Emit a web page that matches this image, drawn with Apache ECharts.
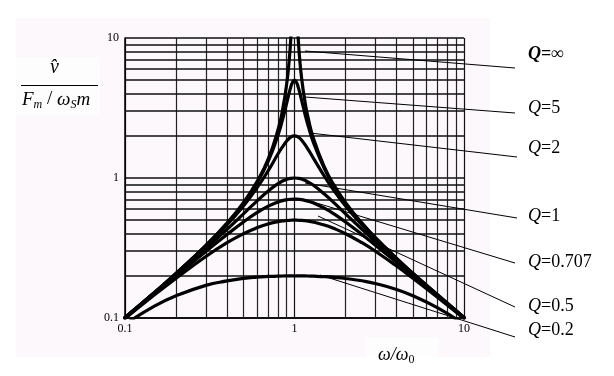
<!DOCTYPE html>
<html>
<head>
<meta charset="utf-8">
<script src="https://cdn.jsdelivr.net/npm/echarts@6/dist/echarts.min.js"></script>
<style>
  html, body { margin: 0; padding: 0; background: #fff; }
  #chart { width: 614px; height: 376px; }
</style>
</head>
<body>
<div id="chart"></div>
<script>
// ω/ω0 sample points (fine spacing near resonance for the sharp curves)
const omegaFine = [0.1, 0.15, 0.2, 0.3, 0.4, 0.5, 0.6, 0.7, 0.8, 0.85, 0.9, 0.93, 0.95, 0.97, 1,
  1.03, 1.05, 1.07, 1.1, 1.15, 1.2, 1.3, 1.5, 1.7, 2, 2.5, 3, 4, 5, 7, 10];
const omega = [0.1, 0.15, 0.2, 0.3, 0.4, 0.5, 0.6, 0.7, 0.8, 0.85, 0.9, 0.95, 1,
  1.05, 1.1, 1.2, 1.3, 1.5, 1.7, 2, 2.5, 3, 4, 5, 7, 10];

// values
const qInf = [0.101, 0.153, 0.208, 0.33, 0.476, 0.667, 0.938, 1.37, 2.22, 3.06, 4.74, 6.88, 9.74, 16.4, null,
  16.9, 10.2, 7.38, 5.24, 3.57, 2.73, 1.88, 1.2, 0.9, 0.667, 0.476, 0.375, 0.267, 0.208, 0.146, 0.101];
const q5 = [0.101, 0.153, 0.208, 0.329, 0.474, 0.661, 0.921, 1.32, 2.03, 2.61, 3.44, 4.05, 4.45, 4.78, 5,
  4.79, 4.49, 4.14, 3.62, 2.9, 2.39, 1.76, 1.17, 0.885, 0.661, 0.474, 0.374, 0.266, 0.208, 0.146, 0.101];
const q2 = [0.101, 0.153, 0.207, 0.325, 0.463, 0.632, 0.849, 1.13, 1.49, 1.67, 1.84, 1.96, 2,
  1.96, 1.87, 1.61, 1.37, 1.03, 0.82, 0.632, 0.463, 0.369, 0.264, 0.207, 0.145, 0.101];
const q1 = [0.1005, 0.152, 0.204, 0.313, 0.43, 0.555, 0.684, 0.808, 0.912, 0.951, 0.978, 0.995, 1,
  0.995, 0.982, 0.939, 0.883, 0.768, 0.669, 0.555, 0.43, 0.351, 0.258, 0.204, 0.144, 0.1005];
const q0707 = [0.1, 0.15, 0.2, 0.299, 0.395, 0.485, 0.565, 0.629, 0.674, 0.689, 0.699, 0.705, 0.707,
  0.705, 0.701, 0.684, 0.662, 0.609, 0.556, 0.485, 0.395, 0.331, 0.25, 0.2, 0.143, 0.1];
const q05 = [0.099, 0.147, 0.192, 0.275, 0.345, 0.4, 0.441, 0.47, 0.488, 0.493, 0.497, 0.499, 0.5,
  0.499, 0.498, 0.492, 0.483, 0.462, 0.437, 0.4, 0.345, 0.3, 0.235, 0.192, 0.14, 0.099];
const q02 = [0.0902, 0.122, 0.144, 0.171, 0.184, 0.192, 0.196, 0.198, 0.199, 0.1996, 0.1998, 0.2, 0.2,
  0.2, 0.1999, 0.1995, 0.1989, 0.1973, 0.1952, 0.1916, 0.1844, 0.1765, 0.16, 0.144, 0.118, 0.0902];

const minorValues = [0.2, 0.3, 0.4, 0.5, 0.6, 0.7, 0.8, 0.9, 2, 3, 4, 5, 6, 7, 8, 9];
const qLabels = ['∞', '5', '2', '1', '0.707', '0.5', '0.2'];

// leader lines: [start, end] in pixels, label centre y
const leaders = [
  [[305, 51], [515, 68], 55],
  [[305, 97], [515, 113], 109],
  [[310, 133], [517, 157], 149],
  [[305, 183], [517, 218], 217],
  [[310, 201], [515, 263], 263],
  [[318, 216], [515, 307], 307],
  [[320, 275], [515, 337], 331]
];

const pairs = (xs, ys) => xs.map((x, i) => [x, ys[i]]);

const curves = [
  pairs(omegaFine, qInf),
  pairs(omegaFine, q5),
  pairs(omega, q2),
  pairs(omega, q1),
  pairs(omega, q0707),
  pairs(omega, q05),
  pairs(omega, q02)
];

const serif = '"Liberation Serif", "DejaVu Serif", serif';

const chart = echarts.init(document.getElementById("chart"));

const graphics = [
  {
    type: "rect",
    z: -10,
    silent: true,
    shape: { x: 16, y: 18, width: 474, height: 339 },
    style: { fill: "#fcf8fc" }
  },
  {
    type: "rect",
    z: -9,
    silent: true,
    shape: { x: 16, y: 57, width: 84, height: 58 },
    style: { fill: "#fefdfe" }
  },
  {
    type: "rect",
    z: -9,
    silent: true,
    shape: { x: 365, y: 337, width: 73, height: 20 },
    style: { fill: "#fefdfe" }
  },
  // y axis name as a fraction
  {
    type: "text",
    left: 50,
    top: 58,
    style: {
      text: "v\u0302",
      font: "italic 20px " + serif,
      fill: "#000"
    }
  },
  {
    type: "line",
    shape: { x1: 21, y1: 85.5, x2: 98, y2: 85.5 },
    style: { stroke: "#000", lineWidth: 1 }
  },
  {
    type: "text",
    left: 22,
    top: 90,
    style: {
      text: "{i|F}{s|m}{n| / }{i|ω}{s|S}{i|m}",
      fill: "#000",
      rich: {
        i: { font: "italic 19px " + serif, fill: "#000" },
        n: { font: "19px " + serif, fill: "#000" },
        s: { font: "italic 12px " + serif, fill: "#000", padding: [10, 0, 0, 0] }
      }
    }
  },
  // x axis name
  {
    type: "text",
    left: 378,
    top: 346,
    style: {
      text: "{i|ω/ω}{s|0}",
      fill: "#000",
      rich: {
        i: { font: "italic 18px " + serif, fill: "#000" },
        s: { font: "12px " + serif, fill: "#000", padding: [9, 0, 0, 0] }
      }
    }
  }
];

leaders.forEach((l, i) => {
  graphics.push({
    type: "line",
    z: 100,
    shape: { x1: l[0][0], y1: l[0][1], x2: l[1][0], y2: l[1][1] },
    style: { stroke: "#000", lineWidth: 1 }
  });
  const bold = i === 0;
  graphics.push({
    type: "text",
    left: 528,
    top: l[2] - 10,
    style: {
      text: "{q|Q}{v|=" + qLabels[i] + "}",
      rich: {
        q: { font: (bold ? "italic bold " : "italic ") + "18px " + serif, fill: "#000" },
        v: { font: (bold ? "bold " : "") + "18px " + serif, fill: "#000" }
      }
    }
  });
});

const axisCommon = {
  type: "log",
  logBase: 10,
  min: 0.1,
  max: 10,
  axisLine: { show: true, lineStyle: { color: "#000", width: 1.5 } },
  axisTick: { show: false },
  splitLine: { show: true, lineStyle: { color: "#111", width: 1.5 } },
  axisLabel: {
    color: "#000",
    fontFamily: serif,
    fontSize: 12,
    showMinLabel: true,
    showMaxLabel: true
  }
};

chart.setOption({
  backgroundColor: "#fff",
  animation: false,
  grid: { left: 125, top: 38, width: 339, height: 280, containLabel: false },
  xAxis: Object.assign({}, axisCommon, {
    axisLabel: Object.assign({}, axisCommon.axisLabel, { margin: 5 }),
    splitLine: { show: true, lineStyle: { color: "#111", width: 1.2 } }
  }),
  yAxis: Object.assign({}, axisCommon, {
    axisLabel: Object.assign({}, axisCommon.axisLabel, { margin: 6 })
  }),
  graphic: graphics,
  series: [
    {
      type: "line",
      z: 1,
      data: [[0.1, 0.1]],
      symbol: "none",
      lineStyle: { opacity: 0 },
      markLine: {
        silent: true,
        symbol: "none",
        animation: false,
        label: { show: false },
        data: minorValues.map((v) => ({ xAxis: v, lineStyle: { color: "#222", width: 1.2, type: "solid" } }))
          .concat(minorValues.map((v) => ({ yAxis: v, lineStyle: { color: "#111", width: 1.6, type: "solid" } })))
      }
    }
  ].concat(curves.map((d) => ({
    type: "line",
    z: 5,
    data: d,
    symbol: "none",
    smooth: 0.5,
    connectNulls: false,
    clip: true,
    lineStyle: { color: "#000", width: 3.2, join: "round", cap: "round" }
  })))
});
</script>
</body>
</html>
